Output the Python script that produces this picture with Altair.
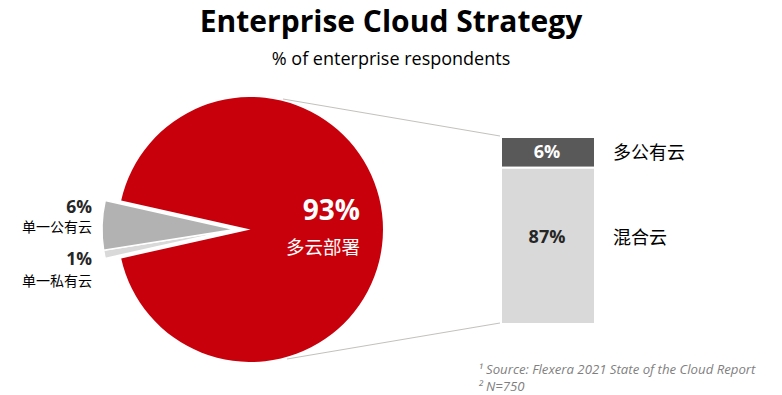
import math
import altair as alt
import pandas as pd

# ---------------- data ----------------
title_text = "Enterprise Cloud Strategy"
subtitle_text = "% of enterprise respondents"
pie_names = ["多云部署", "单一私有云", "单一公有云"]
pie_values = [93, 1, 6]
bar_names = ["多公有云", "混合云"]
bar_values = [6, 87]
footnotes = ["¹ Source: Flexera 2021 State of the Cloud Report", "² N=750"]

# ---------------- style ----------------
W, H = 766, 387
FONT = "Open Sans, Noto Sans CJK SC, sans-serif"
CJK = "Noto Sans CJK SC, Open Sans, sans-serif"
pie_colors = ["#C8000B", "#D9D9D9", "#B2B2B2"]
bar_colors = ["#595959", "#D9D9D9"]
CX, CY, R = 242.5, 221.5, 132.5
EXPLODE = 16
BAR_X, BAR_X2 = 493, 587
BAR_RANGE = [129, 316]
BAR_EXP = 0.66
LINE_COLOR = "#C3C1BD"

# ---------------- pie ----------------
total = sum(pie_values)
pie = pd.DataFrame({"name": pie_names, "value": pie_values})
pie["start"] = pie["value"].cumsum() - pie["value"]
pie["end"] = pie["value"].cumsum()
small_share = (total - pie_values[0]) / total
start_deg = 270 + small_share * 360 / 2
theta_scale = alt.Scale(domain=[0, total],
                        range=[math.radians(start_deg), math.radians(start_deg) + 2 * math.pi])
color_scale = alt.Scale(domain=pie_names, range=pie_colors)

red = alt.Chart(pie.iloc[[0]]).mark_arc(radius=R).encode(
    x=alt.value(CX), y=alt.value(CY),
    theta=alt.Theta("start:Q", scale=theta_scale),
    theta2="end:Q",
    color=alt.Color("name:N", scale=color_scale, legend=None),
)
grey = alt.Chart(pie.iloc[1:]).mark_arc(radius=R, stroke="white", strokeWidth=1.5).encode(
    x=alt.value(CX - EXPLODE), y=alt.value(CY),
    theta=alt.Theta("start:Q", scale=theta_scale),
    theta2="end:Q",
    color=alt.Color("name:N", scale=color_scale, legend=None),
)

# ---------------- bar ----------------
bar_total = sum(bar_values)
bar = pd.DataFrame({"name": bar_names, "value": bar_values})
bar["start"] = bar["value"].cumsum() - bar["value"]
bar["end"] = bar["value"].cumsum()
bar["mid"] = (((bar["start"] ** BAR_EXP) + (bar["end"] ** BAR_EXP)) / 2) ** (1 / BAR_EXP)
bar["label"] = bar["value"].astype(str) + "%"
y_scale = alt.Scale(type="pow", exponent=BAR_EXP, domain=[0, bar_total], range=BAR_RANGE)

bars = alt.Chart(bar).mark_bar(stroke="white", strokeWidth=2).encode(
    x=alt.value(BAR_X), x2=alt.value(BAR_X2),
    y=alt.Y("start:Q", scale=y_scale, axis=None),
    y2="end:Q",
    fill=alt.Fill("name:N", scale=alt.Scale(domain=bar_names, range=bar_colors), legend=None),
)

layers = [red, grey, bars]

def text_layer(df, field, x, y, size, weight="normal", color="#000000", align="center",
               font=FONT, style="normal", dy=0):
    enc = dict(x=alt.value(x), text=alt.Text(f"{field}:N"))
    if isinstance(y, str):
        enc["y"] = alt.Y(y, scale=y_scale, axis=None)
    else:
        enc["y"] = alt.value(y)
    return alt.Chart(df).mark_text(
        font=font, fontSize=size, fontWeight=weight, color=color, align=align,
        baseline="middle", fontStyle=style, dy=dy,
    ).encode(**enc)

# bar labels
bar_pct_colors = ["#FFFFFF", "#262626"]
bar_dy = [1, -8]
for i in range(len(bar)):
    row = bar.iloc[[i]]
    layers.append(text_layer(row, "label", 539, "mid:Q", 18, "bold", bar_pct_colors[i], dy=bar_dy[i]))
    layers.append(text_layer(row, "name", 605, "mid:Q", 18, "normal", "#000000", "left", CJK,
                             dy=bar_dy[i] + 1))

# pie labels
pie["label"] = pie["value"].astype(str) + "%"
layers.append(text_layer(pie.iloc[[0]], "label", 352, 204, 28, "bold", "#FFFFFF", "right"))
layers.append(text_layer(pie.iloc[[0]], "name", 352, 240, 18.5, "normal", "#FFFFFF", "right", CJK))
left_pos = {2: (200, 220), 1: (252, 274)}
for i, (yp, yn) in left_pos.items():
    row = pie.iloc[[i]]
    layers.append(text_layer(row, "label", 84, yp, 17.5, "bold", "#262626", "right"))
    layers.append(text_layer(row, "name", 84, yn, 14, "normal", "#000000", "right", CJK))

# connectors
one = pd.DataFrame({"k": [0]})
for (x1, y1, x2, y2) in [(275, 91, 492, 128), (279, 351, 492, 315)]:
    layers.append(alt.Chart(one).mark_rule(color=LINE_COLOR, strokeWidth=1).encode(
        x=alt.value(x1), y=alt.value(y1), x2=alt.value(x2), y2=alt.value(y2)))

# titles
titles = pd.DataFrame({"t": [title_text], "s": [subtitle_text]})
layers.append(text_layer(titles, "t", 383, 15, 30, "bold", "#000000"))
layers.append(text_layer(titles, "s", 383, 52, 18, "normal", "#000000"))

# footnotes
fn = pd.DataFrame({"f": footnotes})
for i, yv in enumerate([362, 379]):
    layers.append(text_layer(fn.iloc[[i]], "f", 470, yv, 13.2, "normal", "#7F7F7F", "left",
                             FONT, "italic"))

chart = alt.layer(*layers).properties(
    width=W, height=H, padding=0, autosize=alt.AutoSizeParams(type="none")
).resolve_scale(color="independent").configure_view(stroke=None)

chart.save("out.html", embed_options={"renderer": "svg", "actions": False})
